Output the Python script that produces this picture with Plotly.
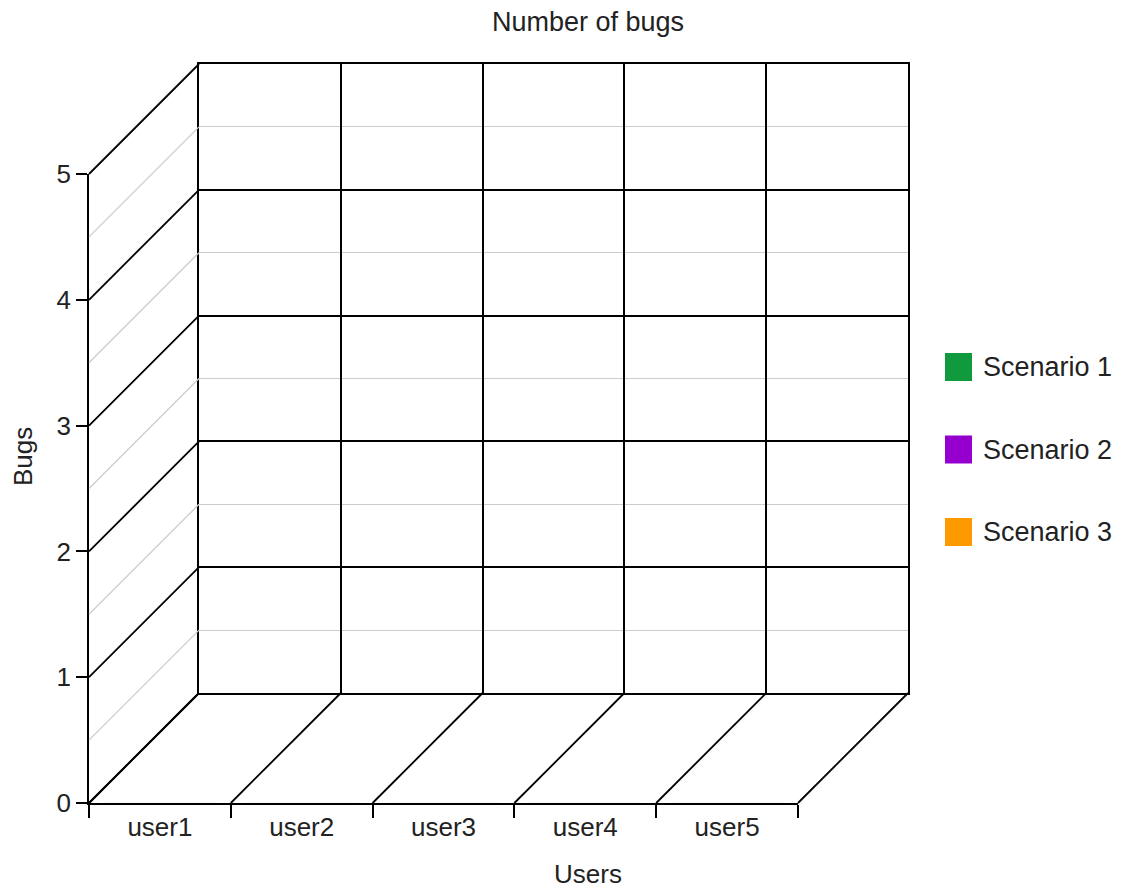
import plotly.graph_objects as go

# ---- data ----
users = ["user1", "user2", "user3", "user4", "user5"]
series_names = ["Scenario 1", "Scenario 2", "Scenario 3"]
scenario1 = [0, 0, 0, 0, 0]
scenario2 = [0, 0, 0, 0, 0]
scenario3 = [0, 0, 0, 0, 0]
series_values = [scenario1, scenario2, scenario3]
series_colors = ["#109a3d", "#9500cf", "#ff9900"]
y_ticks = [0, 1, 2, 3, 4, 5]
y_max = 5
title_text = "Number of bugs"
x_title = "Users"
y_title = "Bugs"

# ---- layout geometry (pixels, page coordinates) ----
OFF = 8  # default body margin of the page
W, H = 1122 - OFF, 888 - OFF
left, right, top, bottom = 89 - OFF, 908 - OFF, 64 - OFF, 803 - OFF
depth_dx, depth_dy = 110, 110
pw, ph = right - left, bottom - top
FONT = "Arial, 'Liberation Sans', sans-serif"
TXT = "#222222"
FS = 26
FS_BIG = 27


def px_x(x):  # page pixel x -> paper fraction
    return (x - OFF - left) / pw


def px_y(y):  # page pixel y -> paper fraction
    return (bottom - (y - OFF)) / ph


front_xdom = [0, (pw - depth_dx) / pw]
front_ydom = [0, (ph - depth_dy) / ph]
back_xdom = [depth_dx / pw, 1]
back_ydom = [depth_dy / ph, 1]


def fx(b):
    return front_xdom[0] + (front_xdom[1] - front_xdom[0]) * b / len(users)


def bx(b):
    return back_xdom[0] + (back_xdom[1] - back_xdom[0]) * b / len(users)


def fy(v):
    return front_ydom[0] + (front_ydom[1] - front_ydom[0]) * v / y_max


def by(v):
    return back_ydom[0] + (back_ydom[1] - back_ydom[0]) * v / y_max


fig = go.Figure()
for name, vals, col in zip(series_names, series_values, series_colors):
    fig.add_trace(go.Bar(x=users, y=vals, name=name, marker_color=col,
                         showlegend=False, xaxis="x", yaxis="y"))
# invisible trace to anchor the back-wall axes
fig.add_trace(go.Scatter(x=[0, len(users)], y=[0, y_max], mode="markers",
                         marker=dict(opacity=0), showlegend=False,
                         hoverinfo="skip", xaxis="x2", yaxis="y2"))

shapes = []
# left wall diagonals
v = 0.0
while v <= y_max + 1e-9:
    major = abs(v - round(v)) < 1e-9
    shapes.append(dict(type="line", xref="paper", yref="paper",
                       x0=0, y0=fy(v), x1=back_xdom[0], y1=by(v),
                       line=dict(color="#000000" if major else "#cccccc",
                                 width=1.8 if major else 1.3)))
    v += 0.5
# floor diagonals
for b in range(len(users) + 1):
    shapes.append(dict(type="line", xref="paper", yref="paper",
                       x0=fx(b), y0=fy(0), x1=bx(b), y1=by(0),
                       line=dict(color="#000000", width=1.8)))

# legend (drawn from series names / colours)
annotations = []
leg_centers = [367, 449.5, 532]
for name, col, cy in zip(series_names, series_colors, leg_centers):
    shapes.append(dict(type="rect", xref="paper", yref="paper",
                       x0=px_x(945), x1=px_x(972),
                       y0=px_y(cy + 14), y1=px_y(cy - 14),
                       line=dict(width=0), fillcolor=col))
    annotations.append(dict(text=name, xref="paper", yref="paper",
                            x=px_x(981), y=px_y(cy),
                            xanchor="left", yanchor="middle", showarrow=False,
                            font=dict(size=FS_BIG, color=TXT, family=FONT)))

annotations.append(dict(text=x_title, xref="paper", yref="paper",
                        x=px_x(588), y=px_y(874),
                        xanchor="center", yanchor="middle", showarrow=False,
                        font=dict(size=FS, color=TXT, family=FONT)))
annotations.append(dict(text=y_title, xref="paper", yref="paper",
                        x=px_x(23), y=px_y(457), textangle=-90,
                        xanchor="center", yanchor="middle", showarrow=False,
                        font=dict(size=FS, color=TXT, family=FONT)))

fig.update_layout(
    width=W, height=H,
    margin=dict(l=left, r=W - right, t=top, b=H - bottom, pad=0),
    paper_bgcolor="white", plot_bgcolor="rgba(0,0,0,0)",
    font=dict(family=FONT, size=FS, color=TXT),
    title=dict(text=title_text, x=(588 - OFF) / W, xref="container",
               xanchor="center", y=1 - (22 - OFF) / H, yref="container",
               yanchor="middle",
               font=dict(size=FS_BIG, color=TXT, family=FONT)),
    showlegend=False,
    barmode="group",
    xaxis=dict(domain=front_xdom, anchor="y", type="category",
               categoryorder="array", categoryarray=users,
               range=[-0.5, len(users) - 0.5], tickson="boundaries",
               ticks="outside", ticklen=13, tickwidth=1.8, tickcolor="#000",
               showline=True, linecolor="#000", linewidth=1.8,
               showgrid=False, zeroline=False, fixedrange=True,
               tickfont=dict(size=FS, color=TXT, family=FONT)),
    yaxis=dict(domain=front_ydom, anchor="x", range=[0, y_max],
               tickvals=y_ticks, ticks="outside", ticklen=11, tickwidth=1.8,
               tickcolor="#000", showline=True, linecolor="#000", linewidth=1.8,
               showgrid=False, zeroline=False, fixedrange=True,
               tickfont=dict(size=FS, color=TXT, family=FONT)),
    xaxis2=dict(domain=back_xdom, anchor="y2", range=[0, len(users)], dtick=1,
                showticklabels=False, ticks="", showgrid=True,
                gridcolor="#000", gridwidth=1.8, showline=True, mirror=True,
                linecolor="#000", linewidth=1.8, zeroline=False, fixedrange=True),
    yaxis2=dict(domain=back_ydom, anchor="x2", range=[0, y_max], dtick=1,
                showticklabels=False, ticks="", showgrid=True,
                gridcolor="#000", gridwidth=1.8, showline=True, mirror=True,
                linecolor="#000", linewidth=1.8, zeroline=False, fixedrange=True,
                minor=dict(dtick=0.5, showgrid=True, gridcolor="#cccccc",
                           gridwidth=1.3, ticks="")),
    shapes=shapes,
    annotations=annotations,
)

fig.write_html("out.html")
